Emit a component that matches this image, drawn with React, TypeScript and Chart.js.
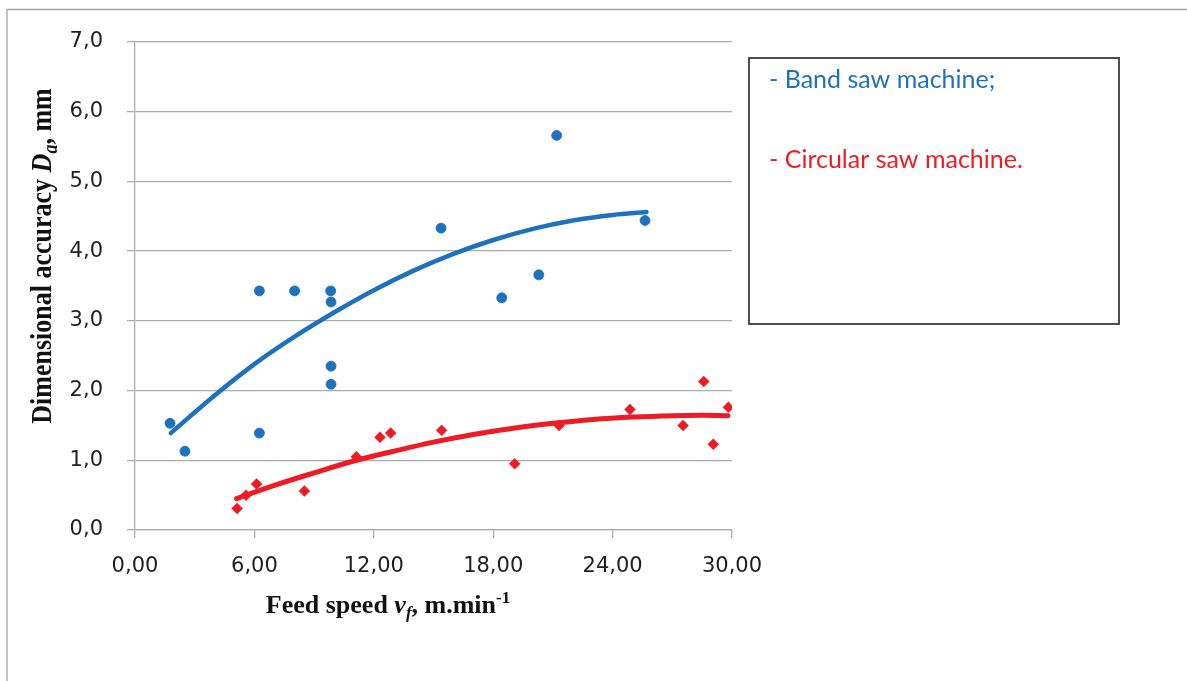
import React, { useEffect, useRef } from "react";
import { Chart, registerables } from "chart.js";

Chart.register(...registerables);

// ---- Data ----
const bandX = [1.76, 2.51, 6.25, 6.25, 8.02, 9.83, 9.85, 9.85, 9.85, 15.38, 18.43, 20.29, 21.19, 25.63];
const bandY = [1.53, 1.13, 3.43, 1.39, 3.43, 3.43, 3.27, 2.35, 2.09, 4.33, 3.33, 3.66, 5.66, 4.44];

const circX = [5.13, 5.58, 6.11, 8.51, 11.12, 12.31, 12.85, 15.41, 19.08, 21.31, 24.87, 27.54, 28.58, 29.06, 29.82];
const circY = [0.31, 0.5, 0.66, 0.56, 1.05, 1.33, 1.39, 1.43, 0.95, 1.5, 1.73, 1.5, 2.13, 1.23, 1.76];

const bandTrendX = [1.8, 4, 6, 8, 10, 12, 14, 16, 18, 20, 22, 24, 25.7];
const bandTrendY = [1.39, 1.93, 2.38, 2.77, 3.12, 3.44, 3.72, 3.96, 4.16, 4.32, 4.44, 4.52, 4.56];

const circTrendX = [5.1, 7, 9, 11, 13, 15, 17, 19, 21, 23, 25, 27, 28.5, 29.8];
const circTrendY = [0.45, 0.64, 0.82, 0.99, 1.13, 1.26, 1.37, 1.46, 1.53, 1.585, 1.62, 1.64, 1.645, 1.64];

const xTickLabels = ["0,00", "6,00", "12,00", "18,00", "24,00", "30,00"];
const yTickLabels = ["0,0", "1,0", "2,0", "3,0", "4,0", "5,0", "6,0", "7,0"];

const legendLabels = ["- Band saw machine;", "- Circular saw machine."];

const BLUE = "#1E72BD";
const RED = "#ED1C24";
const GRID = "#adadad";
const TICK_COLOR = "#1f1f1f";

const toPts = (xs: number[], ys: number[]) => xs.map((x, i) => ({ x, y: ys[i] }));

type Run = { text: string; font: string; dy: number };

function drawRuns(ctx: CanvasRenderingContext2D, runs: Run[]) {
  let total = 0;
  const widths = runs.map((r) => {
    ctx.font = r.font;
    const w = ctx.measureText(r.text).width;
    total += w;
    return w;
  });
  let x = -total / 2;
  ctx.textAlign = "left";
  ctx.textBaseline = "alphabetic";
  runs.forEach((r, i) => {
    ctx.font = r.font;
    ctx.fillText(r.text, x, r.dy);
    x += widths[i];
  });
}

const decorPlugin = {
  id: "decor",
  beforeDraw(chart: any) {
    const ctx: CanvasRenderingContext2D = chart.ctx;
    ctx.save();
    ctx.fillStyle = "#ffffff";
    ctx.fillRect(0, 0, chart.width, chart.height);
    // outer frame (top + left)
    ctx.strokeStyle = "#a6a6a6";
    ctx.lineWidth = 1.3;
    ctx.beginPath();
    ctx.moveTo(7, chart.height);
    ctx.lineTo(7, 9.5);
    ctx.lineTo(chart.width, 9.5);
    ctx.stroke();
    ctx.restore();
  },
  afterDraw(chart: any) {
    const ctx: CanvasRenderingContext2D = chart.ctx;
    const serifB = (s: number) => `bold ${s}px "Liberation Serif", "Times New Roman", serif`;
    const serifBI = (s: number) => `italic bold ${s}px "Liberation Serif", "Times New Roman", serif`;

    // Y axis title
    ctx.save();
    ctx.fillStyle = "#111111";
    ctx.translate(51, 256);
    ctx.scale(1.17, 1);
    ctx.rotate(-Math.PI / 2);
    drawRuns(ctx, [
      { text: "Dimensional accuracy ", font: serifB(26), dy: 0 },
      { text: "D", font: serifBI(26), dy: 0 },
      { text: "a", font: serifBI(18), dy: 5 },
      { text: ", mm", font: serifB(26), dy: 0 },
    ]);
    ctx.restore();

    // X axis title
    ctx.save();
    ctx.fillStyle = "#111111";
    ctx.translate(388, 613);
    drawRuns(ctx, [
      { text: "Feed speed ", font: serifB(26), dy: 0 },
      { text: "v", font: serifBI(26), dy: 0 },
      { text: "f", font: serifBI(17), dy: 5 },
      { text: ", m.min", font: serifB(26), dy: 0 },
      { text: "-1", font: serifB(17), dy: -10 },
    ]);
    ctx.restore();

    // Legend text box
    ctx.save();
    ctx.strokeStyle = "#3c3c3c";
    ctx.lineWidth = 1.8;
    ctx.strokeRect(749, 58, 370, 266);
    ctx.font = '25px Lato, "Open Sans", sans-serif';
    ctx.textAlign = "left";
    ctx.textBaseline = "alphabetic";
    ctx.fillStyle = BLUE;
    ctx.fillText(legendLabels[0], 769, 88);
    ctx.fillStyle = RED;
    ctx.fillText(legendLabels[1], 769, 168);
    ctx.restore();
  },
};

export default function App() {
  const ref = useRef<HTMLCanvasElement>(null);

  useEffect(() => {
    const tickFont = { family: '"DejaVu Sans", sans-serif', size: 21 };
    const chart = new Chart(ref.current!, {
      type: "scatter",
      data: {
        datasets: [
          {
            label: "Band saw machine",
            data: toPts(bandX, bandY),
            pointStyle: "circle",
            pointRadius: 5,
            pointBorderWidth: 0.8,
            backgroundColor: BLUE,
            borderColor: BLUE,
            order: 0,
          },
          {
            label: "Circular saw machine",
            data: toPts(circX, circY),
            pointStyle: "rectRot",
            pointRadius: 5.5,
            pointBorderWidth: 0.5,
            backgroundColor: RED,
            borderColor: RED,
            order: 0,
          },
          {
            label: "Band trend",
            data: toPts(bandTrendX, bandTrendY),
            showLine: true,
            pointRadius: 0,
            borderColor: BLUE,
            borderWidth: 4.5,
            borderCapStyle: "round",
            tension: 0.4,
            order: 1,
          },
          {
            label: "Circular trend",
            data: toPts(circTrendX, circTrendY),
            showLine: true,
            pointRadius: 0,
            borderColor: RED,
            borderWidth: 5,
            borderCapStyle: "round",
            tension: 0.4,
            order: 1,
          },
        ],
      } as any,
      options: {
        responsive: false,
        animation: false,
        layout: { padding: { top: 42, right: 455, left: 0, bottom: 0 } },
        plugins: {
          legend: { display: false },
          tooltip: { enabled: false },
        },
        scales: {
          x: {
            type: "linear",
            min: 0,
            max: 30,
            afterFit: (s: any) => {
              s.height = 151;
            },
            ticks: {
              stepSize: 6,
              font: tickFont,
              color: TICK_COLOR,
              padding: 16,
              maxRotation: 0,
              autoSkip: false,
              callback: (v: any) => xTickLabels[Math.round(Number(v) / 6)],
            },
            grid: {
              drawOnChartArea: false,
              drawTicks: true,
              tickLength: 8,
              color: GRID,
              lineWidth: 1.3,
            },
            border: { color: GRID, width: 1.3 },
          },
          y: {
            type: "linear",
            min: 0,
            max: 7,
            afterFit: (s: any) => {
              s.width = 135;
            },
            ticks: {
              stepSize: 1,
              font: tickFont,
              color: TICK_COLOR,
              padding: 24,
              callback: (v: any) => yTickLabels[Math.round(Number(v))],
            },
            grid: {
              drawTicks: true,
              tickLength: 8,
              color: GRID,
              lineWidth: 1.3,
            },
            border: { color: GRID, width: 1.3 },
          },
        },
      } as any,
      plugins: [decorPlugin],
    });
    return () => chart.destroy();
  }, []);

  return (
    <div style={{ position: "absolute", left: 0, top: 0, width: 1187, height: 681, background: "#fff" }}>
      <canvas ref={ref} width={1187} height={681} style={{ display: "block", width: 1187, height: 681 }} />
    </div>
  );
}
